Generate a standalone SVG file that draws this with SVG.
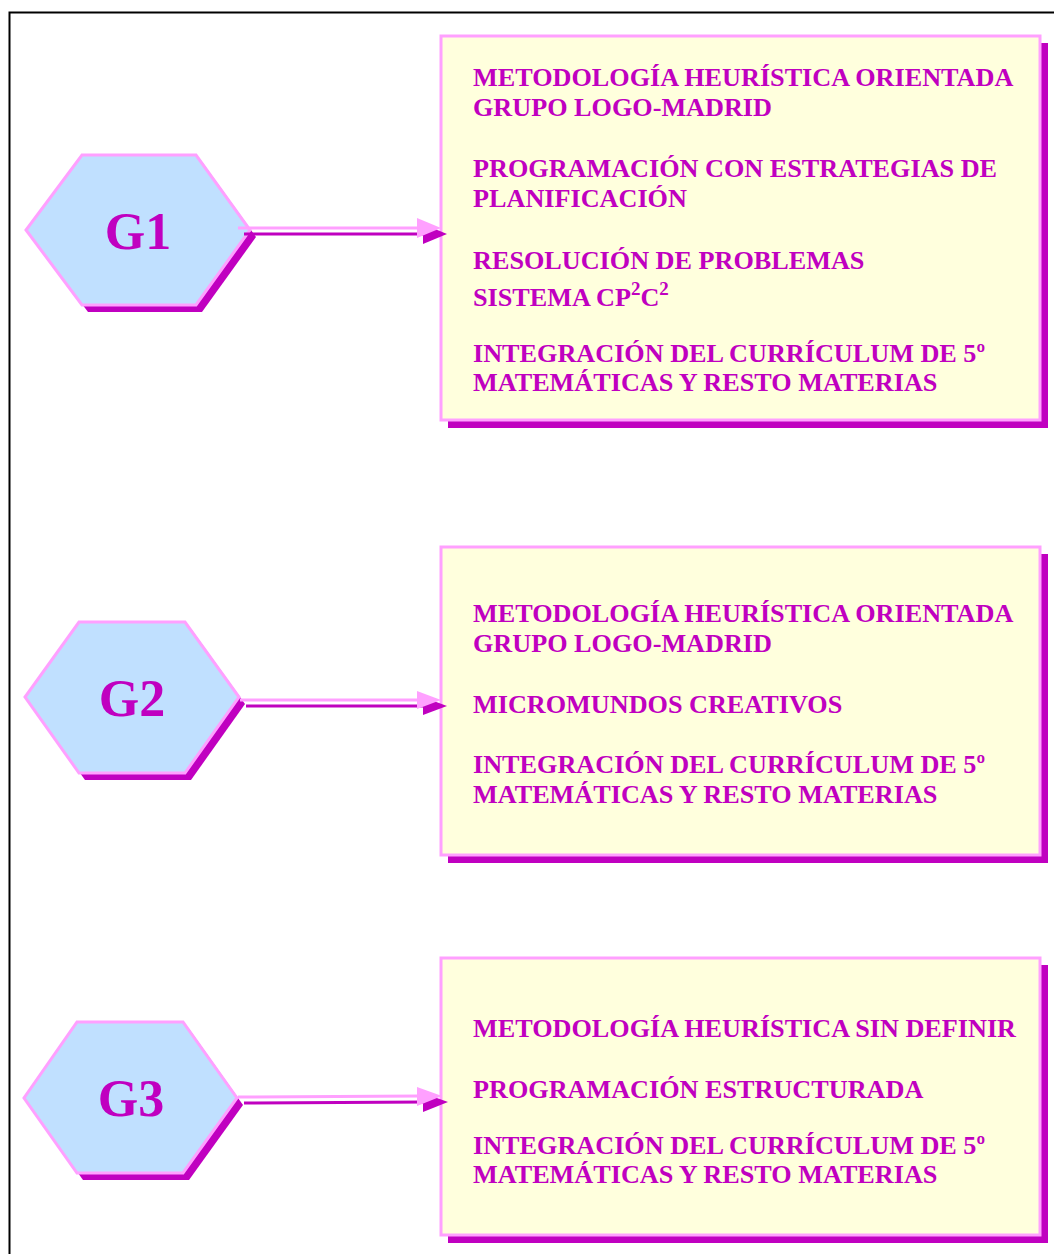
<svg xmlns="http://www.w3.org/2000/svg" width="1054" height="1254" viewBox="0 0 1054 1254">
  <style>
    .frame { fill: none; stroke: #000000; stroke-width: 2; }
    .hex { fill: #C0E0FF; stroke: #FFA0FF; stroke-width: 3; stroke-linejoin: miter; }
    .shade { fill: #C000C0; stroke: none; }
    .box { fill: #FFFFDD; stroke: #FFA0FF; stroke-width: 3; }
    .label { font-family: "Liberation Serif", "Times New Roman", serif; font-weight: bold; fill: #C000C0; }
    .hexlabel { font-size: 52px; text-anchor: middle; }
    .item { font-size: 26.2px; }
    .sup { font-size: 19px; }
    .line { stroke: #FFA0FF; stroke-width: 3; fill: none; }
    .line-shade { stroke: #C000C0; stroke-width: 3; fill: none; }
    .head { fill: #FFA0FF; }
  </style>

  <!-- outer frame -->
  <rect class="frame" x="9.5" y="12.5" width="1100" height="1300"/>

  <!-- G1 -->
  <g id="node-g1">
    <polygon class="shade" points="88,162 202,162 256,237 202,312 88,312 32,237"/>
    <polygon class="hex" points="82,155 196,155 250,230 196,305 82,305 26,230"/>
    <text class="label hexlabel" x="138" y="249">G1</text>
  </g>

  <!-- G2 -->
  <g id="node-g2">
    <polygon class="shade" points="85,629 191,629 245,704 191,780 85,780 31,704"/>
    <polygon class="hex" points="79,622 185,622 239,697 185,773 79,773 25,697"/>
    <text class="label hexlabel" x="132" y="716">G2</text>
  </g>

  <!-- G3 -->
  <g id="node-g3">
    <polygon class="shade" points="83,1029 189,1029 243,1105 189,1180 83,1180 30,1105"/>
    <polygon class="hex" points="77,1022 183,1022 237,1098 183,1173 77,1173 24,1098"/>
    <text class="label hexlabel" x="131" y="1116">G3</text>
  </g>

  <!-- G1 description -->
  <g id="box-g1">
    <rect class="shade" x="448" y="43" width="600" height="385"/>
    <rect class="box" x="441" y="36" width="599" height="384"/>
    <text class="label item" x="473" y="86">METODOLOGÍA HEURÍSTICA ORIENTADA</text>
    <text class="label item" x="473" y="116">GRUPO LOGO-MADRID</text>
    <text class="label item" x="473" y="177">PROGRAMACIÓN CON ESTRATEGIAS DE</text>
    <text class="label item" x="473" y="207">PLANIFICACIÓN</text>
    <text class="label item" x="473" y="269">RESOLUCIÓN DE PROBLEMAS</text>
    <text class="label item" x="473" y="306">SISTEMA CP<tspan class="sup" dy="-11">2</tspan><tspan dy="11">C</tspan><tspan class="sup" dy="-11">2</tspan></text>
    <text class="label item" x="473" y="362">INTEGRACIÓN DEL CURRÍCULUM DE 5º</text>
    <text class="label item" x="473" y="391">MATEMÁTICAS Y RESTO MATERIAS</text>
  </g>

  <!-- G2 description -->
  <g id="box-g2">
    <rect class="shade" x="448" y="554" width="600" height="309"/>
    <rect class="box" x="441" y="547" width="599" height="308"/>
    <text class="label item" x="473" y="622">METODOLOGÍA HEURÍSTICA ORIENTADA</text>
    <text class="label item" x="473" y="652">GRUPO LOGO-MADRID</text>
    <text class="label item" x="473" y="713">MICROMUNDOS CREATIVOS</text>
    <text class="label item" x="473" y="773">INTEGRACIÓN DEL CURRÍCULUM DE 5º</text>
    <text class="label item" x="473" y="803">MATEMÁTICAS Y RESTO MATERIAS</text>
  </g>

  <!-- G3 description -->
  <g id="box-g3">
    <rect class="shade" x="448" y="965" width="600" height="278"/>
    <rect class="box" x="441" y="958" width="599" height="277"/>
    <text class="label item" x="473" y="1037">METODOLOGÍA HEURÍSTICA SIN DEFINIR</text>
    <text class="label item" x="473" y="1098">PROGRAMACIÓN ESTRUCTURADA</text>
    <text class="label item" x="473" y="1154">INTEGRACIÓN DEL CURRÍCULUM DE 5º</text>
    <text class="label item" x="473" y="1183">MATEMÁTICAS Y RESTO MATERIAS</text>
  </g>

  <!-- connectors, drawn last so the heads overlap the box edges: shadow first, then the pink arrow -->
  <g id="connectors">
    <g id="arrow-g1">
      <line class="line-shade" x1="244" y1="234" x2="426" y2="234"/>
      <polygon class="shade" points="423,224 447,234 423,244"/>
      <line class="line" x1="238" y1="228" x2="420" y2="228"/>
      <polygon class="head" points="417,218 441,228 417,238"/>
    </g>
    <g id="arrow-g2">
      <line class="line-shade" x1="246" y1="706" x2="426" y2="706"/>
      <polygon class="shade" points="423,697 447,706 423,715"/>
      <line class="line" x1="240" y1="700" x2="420" y2="700"/>
      <polygon class="head" points="417,691 441,700 417,709"/>
    </g>
    <g id="arrow-g3">
      <line class="line-shade" x1="244" y1="1103" x2="426" y2="1102"/>
      <polygon class="shade" points="423,1093 448,1102 423,1112"/>
      <line class="line" x1="238" y1="1097" x2="420" y2="1096"/>
      <polygon class="head" points="417,1087 442,1096 417,1106"/>
    </g>
  </g>
</svg>
